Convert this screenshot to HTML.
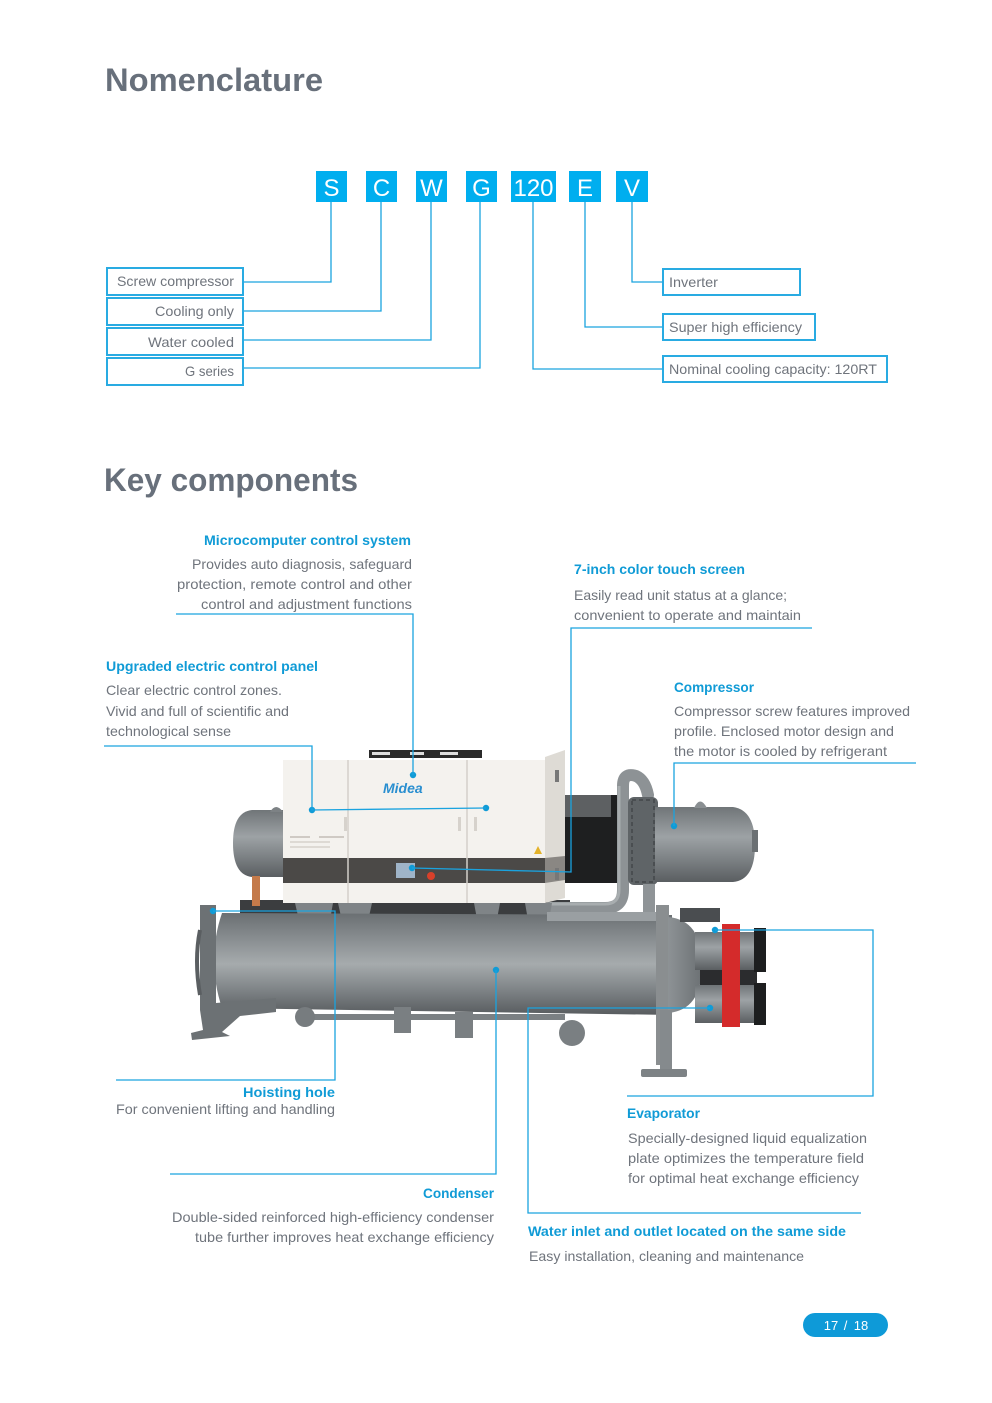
<!DOCTYPE html>
<html>
<head>
<meta charset="utf-8">
<style>
html,body{margin:0;padding:0;background:#fff;}
svg{display:block;}
.t{font-family:"Liberation Sans",sans-serif;font-size:14px;fill:#6f747c;}
.b{font-family:"Liberation Sans",sans-serif;font-size:14px;font-weight:bold;fill:#109bd6;}
.h{font-family:"Liberation Sans",sans-serif;font-size:32px;font-weight:bold;fill:#68707b;}
.L{font-family:"Liberation Sans",sans-serif;font-size:24px;fill:#fff;}
.ln{stroke:#1aa3df;stroke-width:1.3;fill:none;}
.bx{stroke:#29abe2;stroke-width:2;fill:#fff;}
</style>
</head>
<body>
<svg width="992" height="1403" viewBox="0 0 992 1403" xmlns="http://www.w3.org/2000/svg" xml:space="preserve">
<defs>
<linearGradient id="cyl" x1="0" y1="0" x2="0" y2="1">
<stop offset="0" stop-color="#6a6f72"/>
<stop offset="0.3" stop-color="#8e9396"/>
<stop offset="0.5" stop-color="#a6abad"/>
<stop offset="0.75" stop-color="#7f8487"/>
<stop offset="1" stop-color="#585c5f"/>
</linearGradient>
<linearGradient id="cyl2" x1="0" y1="0" x2="0" y2="1">
<stop offset="0" stop-color="#707578"/>
<stop offset="0.4" stop-color="#9da2a5"/>
<stop offset="0.7" stop-color="#7c8184"/>
<stop offset="1" stop-color="#5a5e61"/>
</linearGradient>
<linearGradient id="dome" x1="0" y1="0" x2="1" y2="0">
<stop offset="0" stop-color="#8d9295"/>
<stop offset="1" stop-color="#6c7174"/>
</linearGradient>
</defs>

<!-- Titles -->
<text class="h" x="105" y="91" textLength="218" lengthAdjust="spacingAndGlyphs">Nomenclature</text>
<text class="h" x="104" y="491" textLength="254" lengthAdjust="spacingAndGlyphs">Key components</text>

<!-- Nomenclature letter boxes -->
<rect x="316" y="171" width="31" height="31" fill="#00aeef"/>
<rect x="366" y="171" width="31" height="31" fill="#00aeef"/>
<rect x="416" y="171" width="31" height="31" fill="#00aeef"/>
<rect x="466" y="171" width="31" height="31" fill="#00aeef"/>
<rect x="511" y="171" width="45" height="31" fill="#00aeef"/>
<rect x="569" y="171" width="32" height="31" fill="#00aeef"/>
<rect x="616" y="171" width="32" height="31" fill="#00aeef"/>
<text class="L" x="331.5" y="196" text-anchor="middle">S</text>
<text class="L" x="381.5" y="196" text-anchor="middle">C</text>
<text class="L" x="431.5" y="196" text-anchor="middle">W</text>
<text class="L" x="481.5" y="196" text-anchor="middle">G</text>
<text class="L" x="533.5" y="196" text-anchor="middle">120</text>
<text class="L" x="585" y="196" text-anchor="middle">E</text>
<text class="L" x="632" y="196" text-anchor="middle">V</text>

<!-- Nomenclature connectors -->
<polyline class="ln" points="331,202 331,282 243,282"/>
<polyline class="ln" points="381,202 381,311 243,311"/>
<polyline class="ln" points="431,202 431,340 243,340"/>
<polyline class="ln" points="480,202 480,368 243,368"/>
<polyline class="ln" points="533,202 533,369 662,369"/>
<polyline class="ln" points="585,202 585,327 662,327"/>
<polyline class="ln" points="632,202 632,282 662,282"/>

<!-- Nomenclature boxes -->
<rect class="bx" x="107" y="268" width="136" height="27"/>
<rect class="bx" x="107" y="298" width="136" height="27"/>
<rect class="bx" x="107" y="328" width="136" height="27"/>
<rect class="bx" x="107" y="358" width="136" height="27"/>
<text class="t" x="117" y="286" textLength="117" lengthAdjust="spacingAndGlyphs">Screw compressor</text>
<text class="t" x="155" y="316" textLength="79" lengthAdjust="spacingAndGlyphs">Cooling only</text>
<text class="t" x="148" y="347" textLength="86" lengthAdjust="spacingAndGlyphs">Water cooled</text>
<text class="t" x="185" y="376" textLength="49" lengthAdjust="spacingAndGlyphs">G series</text>

<rect class="bx" x="663" y="269" width="137" height="26"/>
<rect class="bx" x="663" y="314" width="152" height="26"/>
<rect class="bx" x="663" y="356" width="224" height="26"/>
<text class="t" x="669" y="287" textLength="49" lengthAdjust="spacingAndGlyphs">Inverter</text>
<text class="t" x="669" y="332" textLength="133" lengthAdjust="spacingAndGlyphs">Super high efficiency</text>
<text class="t" x="669" y="374" textLength="208" lengthAdjust="spacingAndGlyphs">Nominal cooling capacity: 120RT</text>

<!-- ============ MACHINE ============ -->
<path d="M 290 810 L 252 810 Q 233 812 233 843 Q 233 875 252 877 L 290 877 Z" fill="url(#cyl2)"/>
<path d="M 270 812 Q 276 802 283 812 Z" fill="#7d8285"/>

<rect x="240" y="900" width="330" height="18" fill="#3b3d3f"/>
<rect x="252" y="876" width="8" height="30" fill="#c47a4a"/>

<rect x="563" y="795" width="55" height="88" fill="#1e1f20"/>
<rect x="563" y="795" width="48" height="22" fill="#5d6062"/>

<path d="M 550 908 L 605 908 Q 623 908 623 890 L 623 786 Q 623 772 636 776 Q 645 780 648 795" stroke="#8d9295" stroke-width="12" fill="none" stroke-linecap="round"/>
<path d="M 550 904 L 605 904 Q 619 904 619 890 L 619 786" stroke="#a8adaf" stroke-width="3" fill="none"/>

<rect x="628" y="797" width="30" height="88" rx="6" fill="#5f6467"/>
<rect x="632" y="800" width="22" height="82" fill="none" stroke="#4a4e51" stroke-width="2" stroke-dasharray="4 3"/>
<path d="M 655 807 L 733 807 Q 755 810 755 845 Q 755 880 733 882 L 655 882 Z" fill="url(#cyl2)"/>
<rect x="752" y="830" width="6" height="22" fill="#6b7073"/>
<path d="M 694 808 Q 700 795 707 808 Z" fill="#8a8f92"/>
<rect x="643" y="884" width="12" height="38" fill="#8f9497"/>

<rect x="283" y="760" width="262" height="143" fill="#f4f2ee"/>
<polygon points="545,757 565,750 565,898 545,903" fill="#dedbd5"/>
<rect x="283" y="858" width="262" height="25" fill="#4b4947"/>
<polygon points="545,858 565,856 565,880 545,883" fill="#8a8783"/>
<line x1="348" y1="760" x2="348" y2="903" stroke="#d3d0ca" stroke-width="1.5"/>
<line x1="467" y1="760" x2="467" y2="903" stroke="#d3d0ca" stroke-width="1.5"/>
<rect x="369" y="750" width="113" height="8" fill="#2a2a2a"/>
<rect x="372" y="752" width="18" height="3" fill="#ddd"/>
<rect x="410" y="752" width="14" height="3" fill="#ddd"/>
<rect x="440" y="752" width="18" height="3" fill="#ddd"/>
<text x="383" y="793" font-family="Liberation Sans, sans-serif" font-size="14" font-weight="bold" font-style="italic" fill="#2a8fd0">Midea</text>
<rect x="290" y="836" width="20" height="2" fill="#cfcac4"/>
<rect x="290" y="841" width="40" height="2" fill="#dedad4"/>
<rect x="290" y="846" width="40" height="2" fill="#dedad4"/>
<rect x="319" y="836" width="25" height="2" fill="#cfcac4"/>
<rect x="344" y="817" width="3" height="14" fill="#d6d2cc"/>
<rect x="458" y="817" width="3" height="14" fill="#d6d2cc"/>
<rect x="474" y="817" width="3" height="14" fill="#d6d2cc"/>
<polygon points="538,846 542,854 534,854" fill="#e3b22a"/>
<rect x="396" y="863" width="19" height="15" fill="#9fb4c8"/>
<circle cx="431" cy="876" r="4" fill="#d8402a"/>
<rect x="555" y="770" width="4" height="12" fill="#777"/>
<rect x="555" y="868" width="4" height="12" fill="#777"/>

<polygon points="295,903 333,903 327,937 303,937" fill="#7f8487"/>
<polygon points="338,903 372,903 366,930 344,930" fill="#7f8487"/>
<polygon points="474,903 500,903 494,935 480,935" fill="#7f8487"/>
<polygon points="525,903 552,903 546,937 531,937" fill="#7f8487"/>

<path d="M 222 913 L 672 915 L 672 1015 L 222 1008 Q 206 960 222 913 Z" fill="url(#cyl)"/>
<rect x="547" y="912" width="111" height="9" fill="#9a9fa2"/>
<path d="M 200 905 L 216 905 L 216 1003 L 276 998 L 276 1012 L 240 1016 L 222 1032 L 230 1036 L 192 1040 L 191 1033 L 203 1030 L 200 1010 Z" fill="#6c7174"/>
<path d="M 200 930 Q 194 960 200 995" stroke="#5a5e61" stroke-width="4" fill="none"/>

<rect x="300" y="1014" width="265" height="6" fill="#7b8083"/>
<rect x="394" y="1007" width="17" height="26" fill="#7a7f82"/>
<rect x="455" y="1012" width="18" height="26" fill="#7a7f82"/>
<circle cx="305" cy="1017" r="10" fill="#777c7f"/>
<circle cx="572" cy="1033" r="13" fill="#7a7f82"/>

<rect x="656" y="905" width="13" height="160" fill="#8a8e90"/>
<path d="M 668 917 Q 702 920 702 965 Q 702 1010 668 1013 Z" fill="url(#dome)"/>
<rect x="660" y="1010" width="12" height="62" fill="#858a8d"/>
<rect x="641" y="1069" width="46" height="8" rx="2" fill="#7d8285"/>
<rect x="680" y="908" width="40" height="14" fill="#4a4d50"/>
<rect x="695" y="932" width="62" height="38" fill="url(#cyl2)"/>
<rect x="700" y="970" width="57" height="15" fill="#2b2c2e"/>
<rect x="695" y="985" width="62" height="38" fill="url(#cyl2)"/>
<rect x="754" y="928" width="12" height="44" fill="#1d1e1f"/>
<rect x="754" y="983" width="12" height="42" fill="#1d1e1f"/>
<rect x="722" y="924" width="18" height="48" fill="#d42b2b"/>
<rect x="722" y="972" width="18" height="55" fill="#d42b2b"/>

<!-- ============ CONNECTORS ============ -->
<g fill="#109bd6">
<circle cx="413" cy="775" r="3.2"/>
<circle cx="312" cy="810" r="3.2"/>
<circle cx="486" cy="808" r="3.2"/>
<circle cx="412" cy="868" r="3.2"/>
<circle cx="674" cy="826" r="3.2"/>
<circle cx="213" cy="911" r="3.2"/>
<circle cx="496" cy="970" r="3.2"/>
<circle cx="715" cy="930" r="3.2"/>
<circle cx="710" cy="1008" r="3.2"/>
</g>
<polyline class="ln" points="176,614 413,614 413,775"/>
<polyline class="ln" points="812,628 571,628 571,872 412,868"/>
<polyline class="ln" points="104,746 312,746 312,810 486,808"/>
<polyline class="ln" points="916,763 674,763 674,826"/>
<polyline class="ln" points="213,911 335,911 335,1080 116,1080"/>
<polyline class="ln" points="496,970 496,1174 170,1174"/>
<polyline class="ln" points="715,930 873,930 873,1096 627,1096"/>
<polyline class="ln" points="710,1008 528,1008 528,1213 861,1213"/>

<!-- ============ TEXT ============ -->
<text class="b" x="204" y="545" textLength="207" lengthAdjust="spacingAndGlyphs">Microcomputer control system</text>
<text class="t" x="192" y="569" textLength="220" lengthAdjust="spacingAndGlyphs">Provides auto diagnosis, safeguard</text>
<text class="t" x="177" y="589" textLength="235" lengthAdjust="spacingAndGlyphs">protection, remote control and other</text>
<text class="t" x="201" y="609" textLength="211" lengthAdjust="spacingAndGlyphs">control and adjustment functions</text>

<text class="b" x="574" y="574" textLength="171" lengthAdjust="spacingAndGlyphs">7-inch color touch screen</text>
<text class="t" x="574" y="600" textLength="213" lengthAdjust="spacingAndGlyphs">Easily read unit status at a glance;</text>
<text class="t" x="574" y="620" textLength="227" lengthAdjust="spacingAndGlyphs">convenient to operate and maintain</text>

<text class="b" x="106" y="671" textLength="212" lengthAdjust="spacingAndGlyphs">Upgraded electric control panel</text>
<text class="t" x="106" y="695" textLength="176" lengthAdjust="spacingAndGlyphs">Clear electric control zones.</text>
<text class="t" x="106" y="716" textLength="183" lengthAdjust="spacingAndGlyphs">Vivid and full of scientific and</text>
<text class="t" x="106" y="736" textLength="125" lengthAdjust="spacingAndGlyphs">technological sense</text>

<text class="b" x="674" y="692" textLength="80" lengthAdjust="spacingAndGlyphs">Compressor</text>
<text class="t" x="674" y="716" textLength="236" lengthAdjust="spacingAndGlyphs">Compressor screw features improved</text>
<text class="t" x="674" y="736" textLength="220" lengthAdjust="spacingAndGlyphs">profile. Enclosed motor design and</text>
<text class="t" x="674" y="756" textLength="213" lengthAdjust="spacingAndGlyphs">the motor is cooled by refrigerant</text>

<text class="b" x="243" y="1097" textLength="92" lengthAdjust="spacingAndGlyphs">Hoisting  hole</text>
<text class="t" x="116" y="1114" textLength="219" lengthAdjust="spacingAndGlyphs">For convenient lifting and handling</text>

<text class="b" x="627" y="1118" textLength="73" lengthAdjust="spacingAndGlyphs">Evaporator</text>
<text class="t" x="628" y="1143" textLength="239" lengthAdjust="spacingAndGlyphs">Specially-designed liquid equalization</text>
<text class="t" x="628" y="1163" textLength="236" lengthAdjust="spacingAndGlyphs">plate optimizes the temperature field</text>
<text class="t" x="628" y="1183" textLength="231" lengthAdjust="spacingAndGlyphs">for optimal heat exchange efficiency</text>

<text class="b" x="423" y="1198" textLength="71" lengthAdjust="spacingAndGlyphs">Condenser</text>
<text class="t" x="172" y="1222" textLength="322" lengthAdjust="spacingAndGlyphs">Double-sided reinforced high-efficiency condenser</text>
<text class="t" x="195" y="1242" textLength="299" lengthAdjust="spacingAndGlyphs">tube further improves heat exchange efficiency</text>

<text class="b" x="528" y="1236" textLength="318" lengthAdjust="spacingAndGlyphs">Water inlet and outlet located on the same side</text>
<text class="t" x="529" y="1261" textLength="275" lengthAdjust="spacingAndGlyphs">Easy installation, cleaning and maintenance</text>

<!-- page pill -->
<rect x="803" y="1313" width="85" height="24" rx="12" fill="#0e9ad8"/>
<text x="831" y="1330" text-anchor="middle" font-family="Liberation Sans, sans-serif" font-size="13" fill="#fff">17</text>
<text x="845.5" y="1330" text-anchor="middle" font-family="Liberation Sans, sans-serif" font-size="13" fill="#fff">/</text>
<text x="861" y="1330" text-anchor="middle" font-family="Liberation Sans, sans-serif" font-size="13" fill="#fff">18</text>
</svg>
</body>
</html>
